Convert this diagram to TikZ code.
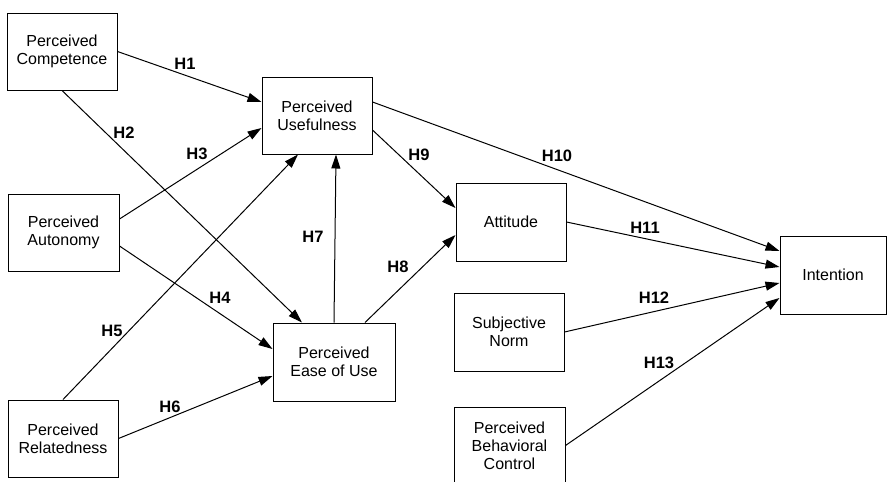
\documentclass[tikz,border=0pt]{standalone}
\usepackage{fontspec}
\setmainfont{Liberation Sans}
\usetikzlibrary{arrows.meta}
\begin{document}
\begin{tikzpicture}[x=1pt,y=-1pt,
  box/.style={draw=black,line width=1pt,minimum width=110pt,minimum height=77pt,
    inner sep=0pt,align=center,font=\fontsize{16}{18}\selectfont},
  hyp/.style={draw=black,line width=1pt,-{Triangle[length=14pt,width=9pt]}},
  lab/.style={font=\fontsize{16.5}{18}\selectfont\bfseries,inner sep=0pt}]
\useasboundingbox (0,0) rectangle (887,482);
% constructs
\node [box] (comp) at (62,51.5) {Perceived\\Competence};
\node [box,minimum width=111pt] (auto) at (63.5,232.5) {Perceived\\Autonomy};
\node [box] (rel) at (63,438.5) {Perceived\\Relatedness};
\node [box] (use) at (317,115.5) {Perceived\\Usefulness};
\node [box,minimum width=122pt,minimum height=78pt] (ease) at (334,362) {Perceived\\Ease of Use};
\node [box,minimum height=78pt] (att) at (511,222) {Attitude};
\node [box,minimum height=78pt] (norm) at (509,332) {Subjective\\Norm};
\node [box,minimum width=111pt] (pbc) at (509.5,445.5) {Perceived\\Behavioral\\Control};
\node [box,minimum width=106pt,minimum height=78pt] (int) at (833,275) {Intention};
% hypotheses
\draw [hyp] (comp.east) -- ([yshift=13.5pt]use.west);
\draw [hyp] (comp.south) -- ([xshift=-32pt]ease.north);
\draw [hyp] ([yshift=13.5pt]auto.east) -- ([yshift=-12.5pt]use.west);
\draw [hyp] ([yshift=-13.5pt]auto.east) -- ([yshift=13pt]ease.west);
\draw [hyp] (rel.north) -- ([xshift=-19pt]use.south);
\draw [hyp] (rel.east) -- ([yshift=-14pt]ease.west);
\draw [hyp] (ease.north) -- ([xshift=19pt]use.south);
\draw [hyp] ([xshift=31pt]ease.north) -- ([yshift=-13pt]att.west);
\draw [hyp] ([yshift=-14.5pt]use.east) -- ([yshift=14pt]att.west);
\draw [hyp] ([yshift=13.5pt]use.east) -- ([yshift=24pt]int.west);
\draw [hyp] (att.east) -- ([yshift=8pt]int.west);
\draw [hyp] (norm.east) -- ([yshift=-8pt]int.west);
\draw [hyp] (pbc.east) -- ([yshift=-23pt]int.west);
% labels
\node [lab] (h1) at (185,64) {H1};
\node [lab] (h2) at (124,133) {H2};
\node [lab] (h3) at (197,154) {H3};
\node [lab] (h4) at (220,298) {H4};
\node [lab] (h5) at (112,331) {H5};
\node [lab] (h6) at (170,407) {H6};
\node [lab] (h7) at (313,237) {H7};
\node [lab] (h8) at (398,267) {H8};
\node [lab] (h9) at (419,155) {H9};
\node [lab] (h10) at (557,156) {H10};
\node [lab] (h11) at (645,228) {H11};
\node [lab] (h12) at (654,298) {H12};
\node [lab] (h13) at (659,363) {H13};
\end{tikzpicture}
\end{document}
